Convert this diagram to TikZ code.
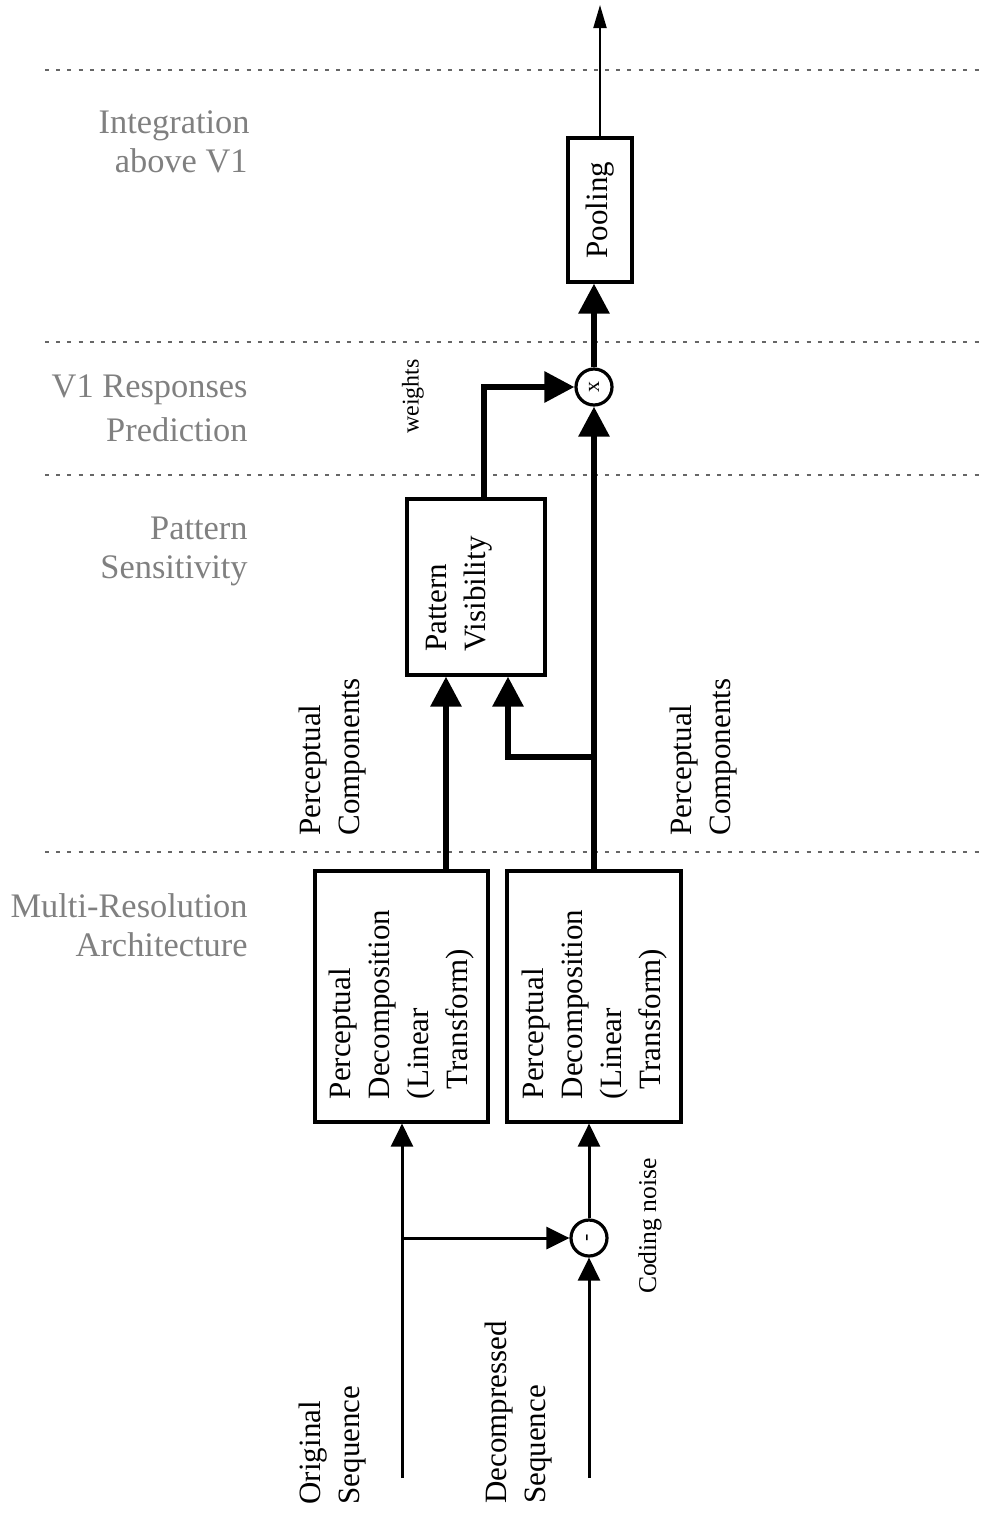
\documentclass[tikz,border=0pt]{standalone}
\usepackage{fontspec}
\setmainfont{Liberation Serif}
\usetikzlibrary{arrows.meta,calc}
\begin{document}
\begin{tikzpicture}[x=0.5pt,y=-0.5pt,
  box/.style={draw, line width=1.6pt, inner sep=0pt},
  opcirc/.style={draw, circle, line width=1.6pt, minimum size=18pt, inner sep=0pt, font=\fontsize{11}{12}\selectfont},
  thk/.style={line width=3pt, -{Triangle[width=15pt,length=15pt]}},
  thn/.style={line width=1.5pt, -{Triangle[width=11pt,length=11.5pt]}},
  topar/.style={line width=1pt, -{Triangle[width=6.5pt,length=11.5pt]}},
  sepline/.style={black!60, line width=1.4pt, dash pattern=on 2pt off 3.6pt},
  sect/.style={black!50, font=\fontsize{17.2}{20}\selectfont, anchor=base east, inner sep=0pt},
  main/.style={font=\fontsize{15.5}{19.5}\selectfont},
  rlab/.style={rotate=90, align=left, inner sep=0pt, font=\fontsize{15.5}{19.5}\selectfont},
  slab/.style={rotate=90, inner sep=0pt}
]
\useasboundingbox (0,0) rectangle (984,1516);

% separator lines
\coordinate (s1a) at (45,70);  \coordinate (s1b) at (984,70);
\coordinate (s2a) at (45,342); \coordinate (s2b) at (984,342);
\coordinate (s3a) at (45,475); \coordinate (s3b) at (984,475);
\coordinate (s4a) at (45,852); \coordinate (s4b) at (984,852);
\draw[sepline] (s1a) -- (s1b);
\draw[sepline] (s2a) -- (s2b);
\draw[sepline] (s3a) -- (s3b);
\draw[sepline] (s4a) -- (s4b);

% section labels
\node[sect] (i1) at (250,133) {Integration};
\node[sect] (i2) at (248,172) {above V1};
\node[sect] (v1) at (248,397) {V1 Responses};
\node[sect] (v2) at (248,441) {Prediction};
\node[sect] (p1) at (248,539) {Pattern};
\node[sect] (p2) at (248,578) {Sensitivity};
\node[sect] (m1) at (248,917) {Multi-Resolution};
\node[sect] (m2) at (248,956) {Architecture};

% boxes
\node[box, main, minimum width=32pt, minimum height=72pt] (pool) at (600,210) {\rotatebox{90}{Pooling}};
\node[opcirc] (mult) at (594,387) {\rotatebox{90}{x}};
\node[box, minimum width=69pt, minimum height=88pt] (pv) at (476,587) {};
\node[main, inner sep=0pt] (pvtext) at (458,594) {\rotatebox{90}{\begin{tabular}{@{}l@{}}Pattern\\Visibility\end{tabular}}};
\node[box, main, minimum width=86.5pt, minimum height=125.5pt] (lbox) at (401.5,996.5)
  {\rotatebox{90}{\begin{tabular}{@{}l@{}}Perceptual\\Decomposition\\(Linear\\\hspace*{5pt}Transform)\end{tabular}\hspace*{8pt}}};
\node[box, main, minimum width=87pt, minimum height=125.5pt] (rbox) at (594,996.5)
  {\rotatebox{90}{\begin{tabular}{@{}l@{}}Perceptual\\Decomposition\\(Linear\\\hspace*{5pt}Transform)\end{tabular}\hspace*{8pt}}};
\node[opcirc] (sub) at (589,1238) {\rotatebox{90}{-}};

% labels
\node[slab, font=\fontsize{12}{14}\selectfont] (wlab) at (413,396.5) {weights};
\node[slab, font=\fontsize{12.8}{15}\selectfont] (cnlab) at (650,1226) {Coding noise};
\node[rlab] (pcl) at (332.5,757) {Perceptual\\Components};
\node[rlab] (pcr) at (704,757) {Perceptual\\Components};
\node[rlab] (orig) at (332.5,1445) {Original\\Sequence};
\node[rlab] (dec) at (519,1412.5) {Decompressed\\Sequence};

% helper coordinates
\coordinate (top) at (600,5);
\coordinate (x446) at (446,0);
\coordinate (x484) at (484,0);
\coordinate (x508) at (508,0);
\coordinate (br) at (594,757);
\coordinate (o0) at (402,1478);
\coordinate (ob) at (402,1238);
\coordinate (d0) at (589,1478);

% connectors
\draw[topar] (pool.north) -- (top);
\draw[thk] (mult.north) -- (mult.north |- pool.south);
\draw[thk] (rbox.north) -- (mult.south);
\draw[thk] (pv.north -| x484) |- (mult.west);
\draw[thk] (lbox.north -| x446) -- (pv.south -| x446);
\draw[thk] (br) -| (pv.south -| x508);
\draw[thn] (o0) -- (o0 |- lbox.south);
\draw[thn] (ob) -- (sub.west);
\draw[thn] (d0) -- (sub.south);
\draw[thn] (sub.north) -- (sub.north |- rbox.south);
\end{tikzpicture}
\end{document}
